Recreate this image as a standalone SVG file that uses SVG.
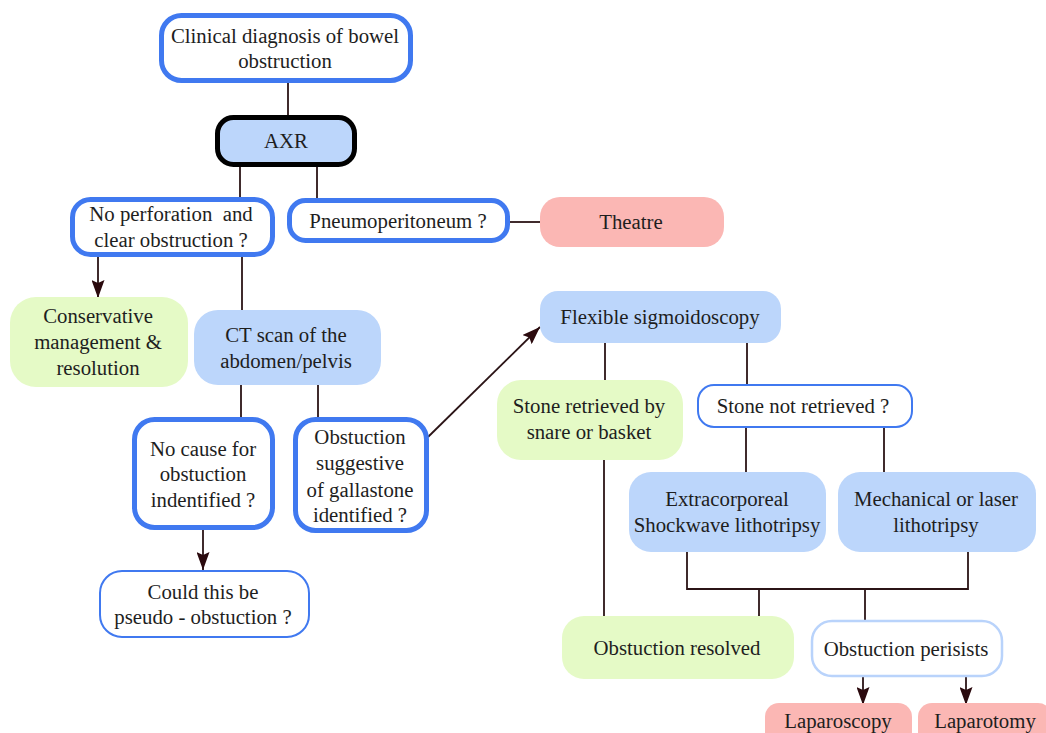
<svg xmlns="http://www.w3.org/2000/svg" width="1046" height="733" viewBox="0 0 1046 733">
<defs>
<style>
text{font-family:"Liberation Serif","DejaVu Serif",serif;font-size:20.8px;fill:#1e1e1e;text-anchor:middle;white-space:pre}
.thick{fill:#fff;stroke:#4079f0;stroke-width:5}
.thin{fill:#fff;stroke:#4079f0;stroke-width:2}
.pale{fill:#fff;stroke:#b9d3fb;stroke-width:2.5}
.blue{fill:#bcd6fb}
.green{fill:#e5fac6}
.pink{fill:#fbb7b4}
.axr{fill:#bcd6fb;stroke:#000;stroke-width:5}
.c{fill:none;stroke:#2b1416;stroke-width:1.8}
.a{marker-end:url(#arr)}
</style>
<marker id="arr" viewBox="0 0 18 13" markerUnits="userSpaceOnUse" markerWidth="18" markerHeight="13" refX="18" refY="6.5" orient="auto">
<path d="M0,0 L18,6.5 L0,13 L3,6.5 z" fill="#2b0a0e"/>
</marker>
</defs>
<rect width="1046" height="733" fill="#fff"/>
<g id="connectors">
<line class="c" x1="288" y1="83" x2="288" y2="115"/>
<line class="c" x1="240" y1="167" x2="240" y2="197"/>
<line class="c" x1="317" y1="167" x2="317" y2="198"/>
<line class="c a" x1="98" y1="257" x2="98" y2="298"/>
<line class="c" x1="242" y1="257" x2="242" y2="310"/>
<line class="c" x1="241" y1="385" x2="241" y2="417"/>
<line class="c" x1="318" y1="385" x2="318" y2="417"/>
<line class="c a" x1="203" y1="530" x2="203" y2="570"/>
<line class="c a" x1="428" y1="437" x2="540" y2="327"/>
<line class="c" x1="509" y1="222" x2="540" y2="222"/>
<line class="c" x1="605" y1="343" x2="605" y2="380"/>
<line class="c" x1="747" y1="343" x2="747" y2="384"/>
<line class="c" x1="604" y1="460" x2="604" y2="616"/>
<line class="c" x1="746" y1="428" x2="746" y2="472"/>
<line class="c" x1="884" y1="428" x2="884" y2="472"/>
<polyline class="c" points="687,552 687,589 968,589 968,552"/>
<line class="c" x1="759" y1="589" x2="759" y2="616"/>
<line class="c" x1="865" y1="589" x2="865" y2="620"/>
<line class="c a" x1="863" y1="677" x2="863" y2="705"/>
<line class="c a" x1="966" y1="677" x2="966" y2="705"/>
</g>
<g id="clinical">
<rect class="thick" x="161.5" y="15.5" width="249" height="65" rx="20"/>
<text x="285" y="43">Clinical diagnosis of bowel</text>
<text x="285" y="68">obstruction</text>
</g>
<g id="axr">
<rect class="axr" x="217.5" y="117.5" width="137" height="47" rx="16"/>
<text x="286" y="148">AXR</text>
</g>
<g id="noperf">
<rect class="thick" x="72.5" y="199.5" width="200" height="55" rx="18"/>
<text x="171" y="221">No perforation  and</text>
<text x="171" y="247">clear obstruction ?</text>
</g>
<g id="pneumo">
<rect class="thick" x="289.5" y="200.5" width="218" height="40" rx="16"/>
<text x="398" y="228">Pneumoperitoneum ?</text>
</g>
<g id="theatre">
<rect class="pink" x="540" y="197" width="184" height="50" rx="20"/>
<text x="631" y="229">Theatre</text>
</g>
<g id="conservative">
<rect class="green" x="10" y="297" width="178" height="90" rx="26"/>
<text x="98" y="323">Conservative</text>
<text x="98" y="349">management &amp;</text>
<text x="98" y="375">resolution</text>
</g>
<g id="ct">
<rect class="blue" x="194" y="310" width="187" height="75" rx="24"/>
<text x="286" y="342">CT scan of the</text>
<text x="286" y="368">abdomen/pelvis</text>
</g>
<g id="nocause">
<rect class="thick" x="134.5" y="419.5" width="138" height="108" rx="20"/>
<text x="203" y="456">No cause for</text>
<text x="203" y="481">obstuction</text>
<text x="203" y="507">indentified ?</text>
</g>
<g id="gallstone">
<rect class="thick" x="295.5" y="419.5" width="131" height="111" rx="20"/>
<text x="360" y="444">Obstuction</text>
<text x="360" y="470">suggestive</text>
<text x="360" y="497">of gallastone</text>
<text x="360" y="522">identified ?</text>
</g>
<g id="pseudo">
<rect class="thin" x="100" y="571" width="209" height="66" rx="22"/>
<text x="203" y="599">Could this be</text>
<text x="203" y="624">pseudo - obstuction ?</text>
</g>
<g id="flexible">
<rect class="blue" x="540" y="291" width="241" height="52" rx="18"/>
<text x="660" y="324">Flexible sigmoidoscopy</text>
</g>
<g id="retrieved">
<rect class="green" x="497" y="380" width="186" height="80" rx="24"/>
<text x="589" y="413">Stone retrieved by</text>
<text x="589" y="439">snare or basket</text>
</g>
<g id="notretrieved">
<rect class="thin" x="698" y="385" width="214" height="42" rx="16"/>
<text x="803" y="413">Stone not retrieved ?</text>
</g>
<g id="eswl">
<rect class="blue" x="629" y="472" width="197" height="80" rx="22"/>
<text x="727" y="506">Extracorporeal</text>
<text x="727" y="532">Shockwave lithotripsy</text>
</g>
<g id="laser">
<rect class="blue" x="838" y="472" width="198" height="80" rx="22"/>
<text x="936" y="506">Mechanical or laser</text>
<text x="936" y="532">lithotripsy</text>
</g>
<g id="resolved">
<rect class="green" x="562" y="616" width="232" height="63" rx="22"/>
<text x="677" y="655">Obstuction resolved</text>
</g>
<g id="persists">
<rect class="pale" x="812" y="621" width="190" height="55" rx="20"/>
<text x="906" y="656">Obstuction perisists</text>
</g>
<g id="laparoscopy">
<rect class="pink" x="765" y="703" width="147" height="45" rx="14"/>
<text x="838" y="728">Laparoscopy</text>
</g>
<g id="laparotomy">
<rect class="pink" x="918" y="703" width="134" height="45" rx="14"/>
<text x="985" y="728">Laparotomy</text>
</g>
</svg>
